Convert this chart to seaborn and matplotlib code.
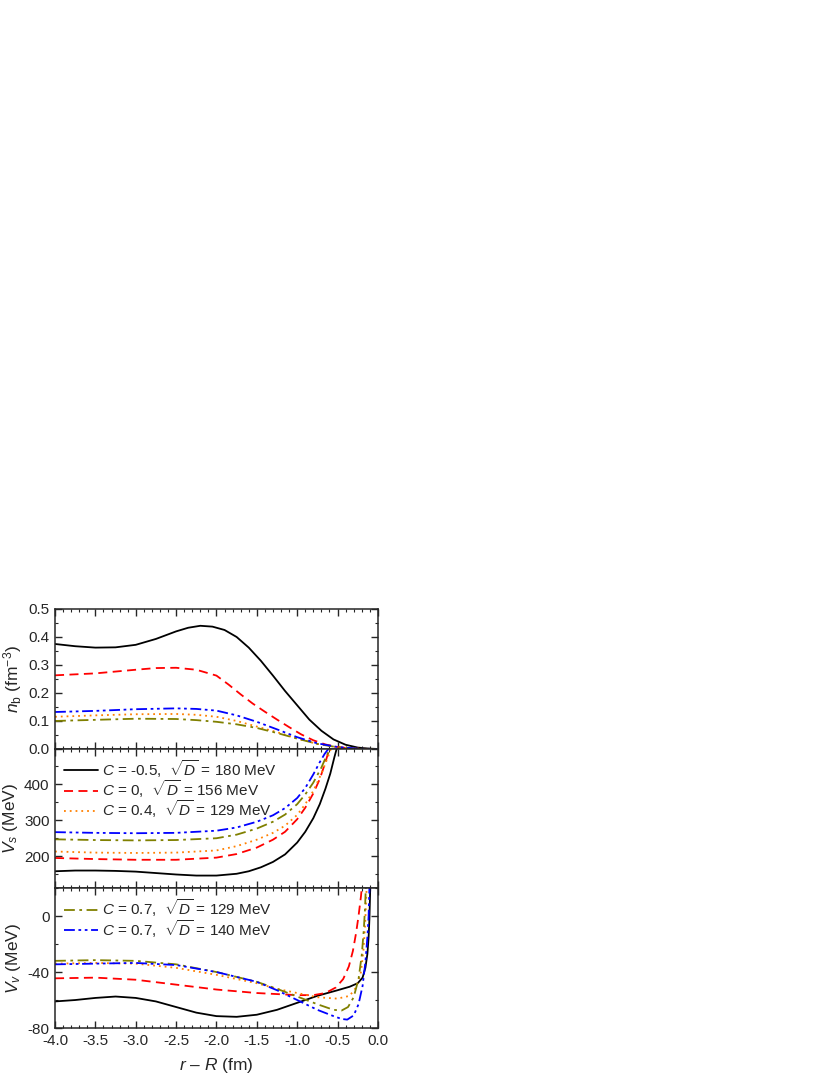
import numpy as np
import pandas as pd
import seaborn as sns
import matplotlib.pyplot as plt
from matplotlib.ticker import MultipleLocator

# ---- data ----
labels = [
    r'$C$ = -0.5,  $\sqrt{D}$ = 180 MeV',
    r'$C$ = 0,  $\sqrt{D}$ = 156 MeV',
    r'$C$ = 0.4,  $\sqrt{D}$ = 129 MeV',
    r'$C$ = 0.7,  $\sqrt{D}$ = 129 MeV',
    r'$C$ = 0.7,  $\sqrt{D}$ = 140 MeV',
]

# baryon density n_b (fm^-3)
nb_x_black = [-4.0, -3.75, -3.5, -3.25, -3.0, -2.75, -2.5, -2.35, -2.2, -2.05, -1.9, -1.75, -1.6, -1.45,
              -1.3, -1.15, -1.0, -0.85, -0.7, -0.55, -0.4, -0.25, -0.1, 0.0]
nb_black = [0.375, 0.367, 0.362, 0.363, 0.372, 0.393, 0.420, 0.433, 0.440, 0.437, 0.425, 0.400, 0.362, 0.315,
            0.262, 0.207, 0.156, 0.105, 0.065, 0.034, 0.015, 0.005, 0.001, 0.0]
nb_x_red = [-4.0, -3.5, -3.0, -2.75, -2.5, -2.25, -2.0, -1.85, -1.7, -1.55, -1.4, -1.25, -1.1, -0.95, -0.8,
            -0.65, -0.5, -0.35, -0.2, 0.0]
nb_red = [0.263, 0.270, 0.283, 0.289, 0.290, 0.283, 0.262, 0.230, 0.195, 0.162, 0.133, 0.105, 0.078, 0.052, 0.031,
          0.016, 0.007, 0.002, 0.0, 0.0]
nb_x_col = [-4.0, -3.5, -3.0, -2.5, -2.25, -2.0, -1.75, -1.5, -1.25, -1.0, -0.75, -0.5, -0.25, 0.0]
nb_orange = [0.115, 0.120, 0.124, 0.125, 0.122, 0.115, 0.100, 0.080, 0.060, 0.037, 0.018, 0.006, 0.001, 0.0]
nb_olive = [0.100, 0.104, 0.108, 0.107, 0.103, 0.097, 0.088, 0.075, 0.057, 0.037, 0.018, 0.006, 0.001, 0.0]
nb_blue = [0.132, 0.136, 0.142, 0.145, 0.143, 0.137, 0.120, 0.097, 0.070, 0.042, 0.020, 0.007, 0.001, 0.0]

# scalar potential V_s (MeV)
vs_x_black = [-4.0, -3.75, -3.5, -3.25, -3.0, -2.75, -2.5, -2.25, -2.0, -1.75, -1.6, -1.45, -1.3, -1.15,
              -1.0, -0.9, -0.8, -0.72, -0.65, -0.59, -0.54, -0.51]
vs_black = [158, 160, 160, 159, 157, 153, 149, 146, 146, 151, 158, 169, 184, 205,
            238, 268, 306, 345, 388, 430, 475, 500]
vs_x_red = [-4.0, -3.5, -3.0, -2.5, -2.0, -1.75, -1.5, -1.3, -1.15, -1.0, -0.9, -0.8, -0.72, -0.65, -0.6]
vs_red = [195, 192, 190, 190, 196, 206, 224, 246, 268, 303, 335, 375, 415, 462, 500]
vs_x_orange = [-4.0, -3.5, -3.0, -2.5, -2.0, -1.75, -1.5, -1.3, -1.15, -1.0, -0.9, -0.8, -0.7, -0.63, -0.58]
vs_orange = [213, 210, 209, 210, 216, 228, 246, 265, 285, 315, 345, 382, 430, 470, 500]
vs_x_olive = [-4.0, -3.5, -3.0, -2.5, -2.0, -1.75, -1.5, -1.3, -1.15, -1.0, -0.9, -0.8, -0.7, -0.64, -0.59]
vs_olive = [247, 245, 244, 245, 250, 260, 277, 296, 316, 345, 372, 405, 447, 478, 500]
vs_x_blue = [-4.0, -3.5, -3.0, -2.5, -2.0, -1.75, -1.5, -1.3, -1.15, -1.0, -0.9, -0.8, -0.72, -0.66, -0.61]
vs_blue = [267, 265, 264, 265, 271, 280, 296, 314, 334, 362, 390, 428, 462, 485, 500]

# vector potential V_v (MeV)
vv_x_black = [-4.0, -3.75, -3.5, -3.25, -3.0, -2.75, -2.5, -2.25, -2.0, -1.75, -1.5, -1.25, -1.0, -0.75,
              -0.5, -0.35, -0.25, -0.19, -0.155, -0.13, -0.115, -0.105, -0.095]
vv_black = [-61, -60, -58.5, -57.5, -58.5, -61, -65, -69, -71.5, -72, -70.5, -67, -62, -57,
            -53, -50.5, -48, -44, -37, -27, -15, -2, 20]
vv_x_red = [-4.0, -3.5, -3.0, -2.5, -2.0, -1.5, -1.0, -0.8, -0.65, -0.52, -0.43, -0.36, -0.31, -0.27,
            -0.24, -0.21, -0.2]
vv_red = [-44.5, -44, -45.5, -49, -52.5, -55, -56.5, -56.5, -55, -51, -45, -36, -25, -12, 0, 14, 20]
vv_x_orange = [-4.0, -3.5, -3.0, -2.5, -2.0, -1.5, -1.25, -1.0, -0.75, -0.5, -0.35, -0.27, -0.21, -0.18,
               -0.16, -0.15, -0.14]
vv_orange = [-34, -33.5, -34, -37, -42, -48, -52, -55, -58, -59, -57, -51, -40, -25, -8, 5, 20]
vv_x_olive = [-4.0, -3.5, -3.0, -2.5, -2.0, -1.5, -1.25, -1.0, -0.75, -0.55, -0.45, -0.37, -0.3, -0.24,
              -0.2, -0.175, -0.16, -0.15]
vv_olive = [-32, -31.5, -32, -34.5, -40, -47, -52, -57.5, -63, -67, -67.5, -65, -58, -45, -28, -10, 5, 20]
vv_x_blue = [-4.0, -3.5, -3.0, -2.5, -2.0, -1.5, -1.25, -1.0, -0.75, -0.55, -0.45, -0.38, -0.3, -0.24,
             -0.19, -0.155, -0.13, -0.115, -0.105]
vv_blue = [-34.5, -34, -33.5, -35, -40, -47, -53, -60, -67, -71.5, -73.5, -74, -71, -63, -50, -33, -15, 0, 20]

colors = ['black', '#ff0000', '#ff8000', '#808000', '#0000ff']
styles = ['-', (0, (5, 3)), (0, (1, 2.2)), (0, (6, 2.5, 1.5, 2.5)), (0, (6, 2, 1.5, 2, 1.5, 2))]

sns.set_style("ticks")
plt.rcParams['font.family'] = ['Liberation Sans', 'DejaVu Sans']
plt.rcParams['mathtext.fontset'] = 'custom'
plt.rcParams['mathtext.rm'] = 'Liberation Sans'
plt.rcParams['mathtext.it'] = 'Liberation Sans:italic'
plt.rcParams['axes.unicode_minus'] = False

fig = plt.figure(figsize=(8.3, 10.75), dpi=100)
left, width, height = 0.0663, 0.389, 0.1302
ax1 = fig.add_axes([left, 0.3033, width, height])
ax2 = fig.add_axes([left, 0.1735, width, height])
ax3 = fig.add_axes([left, 0.0437, width, height])

panels = [
    (ax1, [(nb_x_black, nb_black), (nb_x_red, nb_red), (nb_x_col, nb_orange), (nb_x_col, nb_olive), (nb_x_col, nb_blue)]),
    (ax2, [(vs_x_black, vs_black), (vs_x_red, vs_red), (vs_x_orange, vs_orange), (vs_x_olive, vs_olive), (vs_x_blue, vs_blue)]),
    (ax3, [(vv_x_black, vv_black), (vv_x_red, vv_red), (vv_x_orange, vv_orange), (vv_x_olive, vv_olive), (vv_x_blue, vv_blue)]),
]

handles = {}
for ax, series in panels:
    for i, (xs, ys) in enumerate(series):
        df = pd.DataFrame({'x': xs, 'y': ys})
        sns.lineplot(data=df, x='x', y='y', ax=ax, color=colors[i], linestyle=styles[i],
                     linewidth=1.3, estimator=None, sort=False, legend=False)
        handles[i] = ax.lines[-1]

ax1.set_ylim(0, 0.5)
ax2.set_ylim(110, 500)
ax3.set_ylim(-80, 20)

for ax in (ax1, ax2, ax3):
    ax.set_xlim(-4.0, 0.0)
    ax.xaxis.set_major_locator(MultipleLocator(0.5))
    ax.xaxis.set_minor_locator(MultipleLocator(0.1))
    ax.tick_params(which='both', direction='in', top=True, right=True, labelsize=11, pad=4)
    ax.tick_params(which='major', length=5, width=1)
    ax.tick_params(which='minor', length=2.5, width=0.8)
    for sp in ax.spines.values():
        sp.set_linewidth(1.1)
    ax.set_xlabel('')

ax1.yaxis.set_major_locator(MultipleLocator(0.1))
ax1.yaxis.set_minor_locator(MultipleLocator(0.05))
ax1.yaxis.set_major_formatter(plt.FormatStrFormatter('%.1f'))
ax2.set_yticks([200, 300, 400, 500], ['200', '300', '400', ''])
ax2.yaxis.set_minor_locator(MultipleLocator(50))
ax3.yaxis.set_major_locator(MultipleLocator(40))
ax3.yaxis.set_minor_locator(MultipleLocator(20))
ax3.xaxis.set_major_formatter(plt.FormatStrFormatter('%.1f'))
ax1.tick_params(labelbottom=False)
ax2.tick_params(labelbottom=False)

ax1.set_ylabel(r'$n_\mathrm{b}$ (fm$^{-3}$)', fontsize=12.5, labelpad=3)
ax2.set_ylabel(r'$V_s$ (MeV)', fontsize=12.5, labelpad=3)
ax3.set_ylabel(r'$V_v$ (MeV)', fontsize=12.5, labelpad=3)
ax3.set_xlabel(r'$r$ – $R$ (fm)', fontsize=12.5, labelpad=6)
fig.align_ylabels([ax1, ax2, ax3])

leg_kw = dict(loc='upper left', frameon=False, fontsize=11, handlelength=2.2, handletextpad=0.3,
              labelspacing=-0.1, borderaxespad=0.3, borderpad=0.3)
ax2.legend([handles[0], handles[1], handles[2]], labels[:3], **leg_kw)
ax3.legend([handles[3], handles[4]], labels[3:], **leg_kw)

fig.savefig('out.png', dpi=100)
